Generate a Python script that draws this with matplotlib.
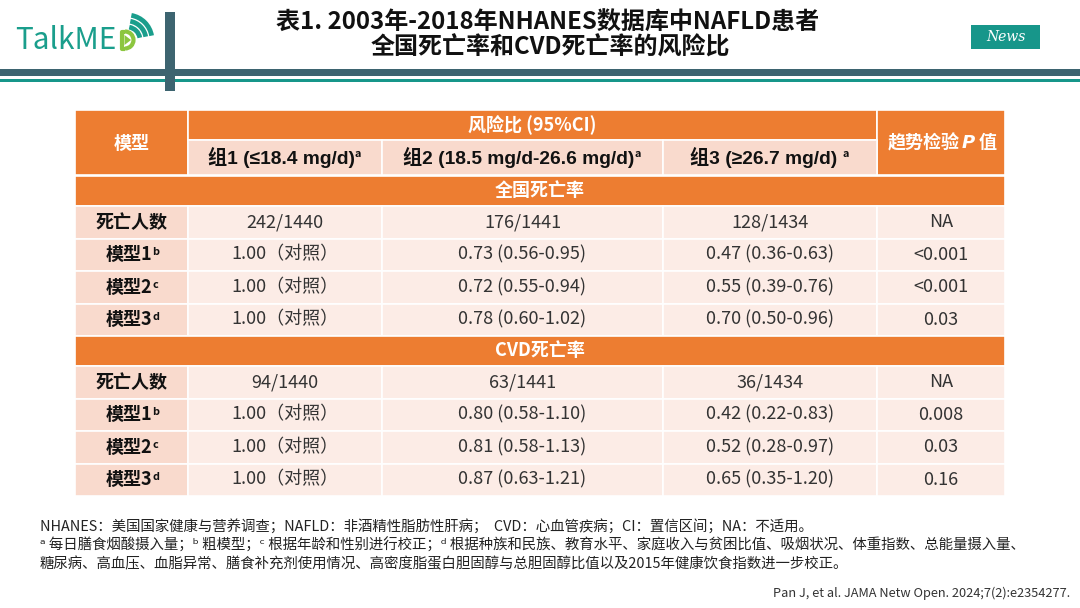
import matplotlib.pyplot as plt
from matplotlib.patches import Rectangle, Arc, Polygon

plt.rcParams['font.family'] = ['Noto Sans CJK SC', 'DejaVu Sans']

# 表格数据
title_1 = '表1. 2003年-2018年NHANES数据库中NAFLD患者'
title_2 = '全国死亡率和CVD死亡率的风险比'
header_model = '模型'
header_hr = '风险比 (95%CI)'
groups = ['组1 (≤18.4 mg/d)', '组2 (18.5 mg/d-26.6 mg/d)', '组3 (≥26.7 mg/d) ']
sections = ['全国死亡率', 'CVD死亡率']
row_labels = ['死亡人数', '模型1', '模型2', '模型3']
row_sups = ['', 'b', 'c', 'd']

all_g1 = ['242/1440', '1.00（对照）', '1.00（对照）', '1.00（对照）']
all_g2 = ['176/1441', '0.73 (0.56-0.95)', '0.72 (0.55-0.94)', '0.78 (0.60-1.02)']
all_g3 = ['128/1434', '0.47 (0.36-0.63)', '0.55 (0.39-0.76)', '0.70 (0.50-0.96)']
all_p = ['NA', '<0.001', '<0.001', '0.03']

cvd_g1 = ['94/1440', '1.00（对照）', '1.00（对照）', '1.00（对照）']
cvd_g2 = ['63/1441', '0.80 (0.58-1.10)', '0.81 (0.58-1.13)', '0.87 (0.63-1.21)']
cvd_g3 = ['36/1434', '0.42 (0.22-0.83)', '0.52 (0.28-0.97)', '0.65 (0.35-1.20)']
cvd_p = ['NA', '0.008', '0.03', '0.16']

notes = [
    'NHANES：美国国家健康与营养调查；NAFLD：非酒精性脂肪性肝病；  CVD：心血管疾病；CI：置信区间；NA：不适用。',
    'ᵃ 每日膳食烟酸摄入量；ᵇ 粗模型；ᶜ 根据年龄和性别进行校正；ᵈ 根据种族和民族、教育水平、家庭收入与贫困比值、吸烟状况、体重指数、总能量摄入量、',
    '糖尿病、高血压、血脂异常、膳食补充剂使用情况、高密度脂蛋白胆固醇与总胆固醇比值以及2015年健康饮食指数进一步校正。',
]
citation = 'Pan J, et al. JAMA Netw Open. 2024;7(2):e2354277.'

# 颜色
ORANGE = '#ED7D31'
PINK_DARK = '#F9DACD'
PINK_LIGHT = '#FCECE6'
TEAL = '#17968A'
SLATE = '#3D6470'
LOGO = '#1A9E8C'
LIME = '#8CC63F'

fig = plt.figure(figsize=(10.8, 6.08), dpi=100)
ax = fig.add_axes([0, 0, 1, 1])
ax.set_xlim(0, 1080)
ax.set_ylim(608, 0)
ax.axis('off')

# 顶部装饰
ax.add_patch(Rectangle((0, 69), 1080, 7, color=SLATE, lw=0))
ax.add_patch(Rectangle((0, 79), 1080, 3, color=TEAL, lw=0))
ax.add_patch(Rectangle((165, 12), 10, 79, color=SLATE, lw=0))

# logo
ax.text(15, 49, 'TalkME', fontsize=21.5, color=LOGO, va='baseline', ha='left', fontweight='medium')
# D 图形
ax.plot([125, 121.5, 121.5, 125], [31.5, 31.5, 48.5, 48.5], color=LIME, lw=3, solid_capstyle='butt')
ax.add_patch(Arc((125, 40), 17, 17, theta1=-90, theta2=90, color=LIME, lw=3))
ax.add_patch(Polygon([[124.5, 35], [124.5, 45], [131, 40]], closed=True, color=LIME, lw=0))
for r in [13, 19, 25]:
    ax.add_patch(Arc((127, 40), 2 * r, 2 * r, theta1=-80, theta2=-10, color=LOGO, lw=3.4))

# 标题
ax.text(548, 22, title_1, fontsize=17.3, fontweight='bold', ha='center', va='center', color='#111111')
ax.text(550, 48, title_2, fontsize=17.3, fontweight='bold', ha='center', va='center', color='#111111')

# News
ax.add_patch(Rectangle((971, 25), 69, 24, color=TEAL, lw=0))
ax.text(1005.5, 37, 'News', fontsize=10, color='white', ha='center', va='center',
        family='DejaVu Serif', style='italic')

# 表格布局
xs = [75, 188, 382, 663, 877, 1005]
y_head = [110, 140, 175]
sec_rows = [(176, 206), (336, 366)]
row_h = 32.5
FS = 13


def cell(x0, x1, y0, y1, color):
    ax.add_patch(Rectangle((x0, y0), x1 - x0, y1 - y0, facecolor=color, edgecolor='white', lw=1.2))


def cx(i, j=None):
    j = i + 1 if j is None else j
    return (xs[i] + xs[j]) / 2


def with_sup(x, y, main, sup, size, weight, color, shift=3, family=None):
    fam = family or plt.rcParams['font.family']
    t = ax.text(x - shift, y, main, fontsize=size, fontweight=weight, ha='center', va='center',
                color=color, family=fam)
    ax.annotate(sup, xy=(1, 0.9), xycoords=t, xytext=(0.3, 0), textcoords='offset points',
                fontsize=min(size, 13) * 0.6, fontweight=weight, ha='left', va='top', color=color)


# 表头
cell(xs[0], xs[1], y_head[0], y_head[2], ORANGE)
cell(xs[1], xs[4], y_head[0], y_head[1], ORANGE)
cell(xs[4], xs[5], y_head[0], y_head[2], ORANGE)
for i in range(3):
    cell(xs[i + 1], xs[i + 2], y_head[1], y_head[2], PINK_DARK)

ax.text(cx(0), 143, header_model, fontsize=FS, fontweight='bold', color='white', ha='center', va='center')
ax.text(cx(1, 4), 125, header_hr, fontsize=FS, fontweight='bold', color='white', ha='center', va='center')
for i, g in enumerate(groups):
    # ≤ ≥ 用 Liberation Sans 的直线字形
    with_sup(cx(i + 1), 157, g, 'a', 13.8, 'bold', '#111111', shift=4,
             family=['Liberation Sans', 'Noto Sans CJK SC'])

t1 = ax.text(888, 143, '趋势检验', fontsize=FS, fontweight='bold', color='white', ha='left', va='center')
t2 = ax.annotate('P', xy=(1, 0.5), xycoords=t1, xytext=(1, 0), textcoords='offset points',
                 fontsize=FS, fontweight='bold', style='italic', family='DejaVu Sans',
                 color='white', ha='left', va='center')
ax.annotate('值', xy=(1, 0.5), xycoords=t2, xytext=(3, 0), textcoords='offset points',
            fontsize=FS, fontweight='bold', color='white', ha='left', va='center')

# 数据区
blocks = [(all_g1, all_g2, all_g3, all_p), (cvd_g1, cvd_g2, cvd_g3, cvd_p)]
for (s0, s1), name, cols in zip(sec_rows, sections, blocks):
    cell(xs[0], xs[5], s0, s1, ORANGE)
    ax.text(540, (s0 + s1) / 2, name, fontsize=FS, fontweight='bold', color='white', ha='center', va='center')
    for r in range(len(row_labels)):
        y0 = s1 + r * row_h
        y1 = y0 + row_h
        ym = (y0 + y1) / 2
        cell(xs[0], xs[1], y0, y1, PINK_DARK)
        for c in range(4):
            cell(xs[c + 1], xs[c + 2], y0, y1, PINK_LIGHT)
        if row_sups[r]:
            with_sup(cx(0), ym, row_labels[r], row_sups[r], FS, 'bold', '#111111', shift=3)
        else:
            ax.text(cx(0), ym, row_labels[r], fontsize=FS, fontweight='bold', color='#111111',
                    ha='center', va='center')
        for c, col in enumerate(cols):
            ax.text(cx(c + 1), ym, col[r], fontsize=FS, color='#333333', ha='center', va='center')

# 注释
for k, line in enumerate(notes):
    ax.text(40, 526 + k * 19, line, fontsize=10.4, color='#222222', ha='left', va='center')
ax.text(1070, 593, citation, fontsize=9.2, color='#333333', ha='right', va='center')

fig.savefig('out.png', dpi=100)
